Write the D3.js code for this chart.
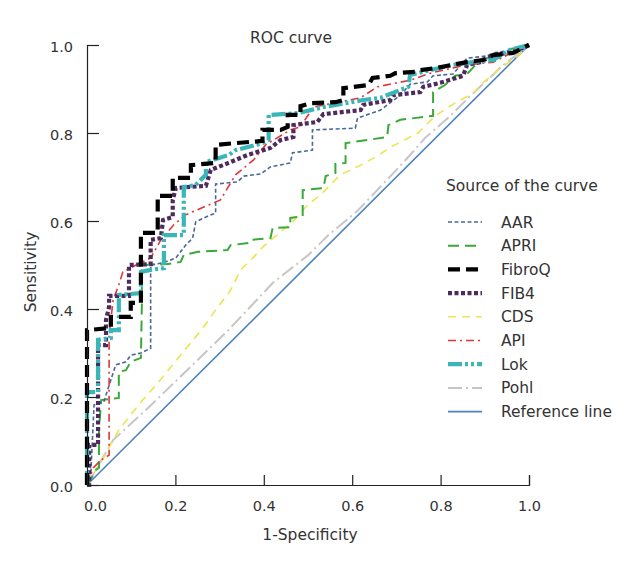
<!DOCTYPE html>
<html>
<head>
<meta charset="utf-8">
<script src="https://cdn.jsdelivr.net/npm/d3@7/dist/d3.min.js"></script>
<style>
  html, body { margin: 0; padding: 0; background: #fff; }
  svg text { font-family: "DejaVu Sans", Verdana, sans-serif; fill: #333; }
</style>
</head>
<body>
<svg id="chart" width="630" height="562"></svg>
<script>
// ---- data: ROC points [1-specificity, sensitivity] ----
const seriesNames = ["AAR", "APRI", "FibroQ", "FIB4", "CDS", "API", "Lok", "Pohl", "Reference line"];
const xTicks = [0, 0.2, 0.4, 0.6, 0.8, 1.0];
const yTicks = [0, 0.2, 0.4, 0.6, 0.8, 1.0];

const aarPts = [[0,0],[0.009,0.034],[0.016,0.182],[0.038,0.189],[0.065,0.273],[0.088,0.280],[0.099,0.295],[0.122,0.300],[0.144,0.311],[0.144,0.500],[0.172,0.505],[0.201,0.516],[0.223,0.545],[0.239,0.561],[0.246,0.598],[0.273,0.611],[0.291,0.618],[0.291,0.684],[0.341,0.689],[0.354,0.702],[0.393,0.707],[0.415,0.723],[0.460,0.732],[0.465,0.755],[0.510,0.761],[0.510,0.807],[0.607,0.811],[0.612,0.834],[0.664,0.852],[0.709,0.886],[0.731,0.911],[0.770,0.916],[0.783,0.930],[0.828,0.934],[0.860,0.970],[0.905,0.975],[0.919,0.982],[0.964,0.989],[1,1]];

const apriPts = [[0,0],[0.005,0.007],[0.020,0.034],[0.027,0.039],[0.027,0.125],[0.032,0.193],[0.072,0.198],[0.072,0.257],[0.088,0.261],[0.099,0.280],[0.122,0.289],[0.124,0.405],[0.124,0.500],[0.183,0.502],[0.212,0.507],[0.219,0.523],[0.251,0.530],[0.318,0.534],[0.325,0.545],[0.366,0.550],[0.370,0.557],[0.415,0.561],[0.420,0.584],[0.460,0.586],[0.460,0.607],[0.488,0.611],[0.488,0.670],[0.535,0.675],[0.540,0.702],[0.562,0.709],[0.562,0.730],[0.585,0.732],[0.585,0.777],[0.634,0.784],[0.679,0.791],[0.682,0.818],[0.709,0.830],[0.783,0.839],[0.783,0.893],[0.810,0.909],[0.833,0.930],[0.860,0.934],[0.889,0.966],[0.935,0.977],[0.950,0.989],[1,1]];

const fibroqPts = [[0,0],[0,0.352],[0.054,0.357],[0.054,0.382],[0.099,0.382],[0.099,0.414],[0.122,0.414],[0.122,0.573],[0.160,0.573],[0.160,0.657],[0.194,0.657],[0.194,0.698],[0.235,0.698],[0.235,0.727],[0.291,0.732],[0.291,0.773],[0.336,0.777],[0.397,0.782],[0.397,0.807],[0.438,0.807],[0.454,0.814],[0.454,0.841],[0.483,0.841],[0.483,0.861],[0.506,0.868],[0.562,0.870],[0.580,0.875],[0.580,0.902],[0.637,0.909],[0.646,0.925],[0.686,0.930],[0.698,0.936],[0.743,0.939],[0.754,0.943],[0.792,0.948],[0.826,0.955],[0.860,0.961],[0.896,0.966],[0.919,0.977],[0.964,0.982],[1,1]];

const fib4Pts = [[0,0],[0.005,0],[0.005,0.091],[0.025,0.091],[0.025,0.318],[0.043,0.318],[0.043,0.375],[0.050,0.405],[0.050,0.430],[0.095,0.430],[0.095,0.500],[0.144,0.502],[0.144,0.557],[0.167,0.561],[0.172,0.602],[0.194,0.609],[0.194,0.648],[0.201,0.675],[0.269,0.680],[0.280,0.716],[0.325,0.734],[0.363,0.750],[0.415,0.766],[0.438,0.784],[0.467,0.791],[0.467,0.818],[0.521,0.825],[0.535,0.843],[0.619,0.852],[0.625,0.864],[0.686,0.875],[0.693,0.886],[0.754,0.893],[0.761,0.905],[0.799,0.914],[0.851,0.930],[0.860,0.955],[0.889,0.961],[0.919,0.977],[0.964,0.984],[1,1]];

const cdsPts = [[0,0],[0.034,0.057],[0.072,0.125],[0.104,0.166],[0.126,0.193],[0.156,0.227],[0.264,0.359],[0.291,0.398],[0.325,0.443],[0.348,0.489],[0.377,0.518],[0.400,0.543],[0.427,0.566],[0.465,0.598],[0.497,0.634],[0.533,0.664],[0.573,0.705],[0.619,0.727],[0.652,0.745],[0.691,0.770],[0.749,0.800],[0.788,0.839],[0.826,0.864],[0.874,0.891],[0.898,0.916],[0.939,0.950],[0.975,0.975],[1,1]];

const apiPts = [[0,0],[0.014,0.039],[0.032,0.057],[0.050,0.068],[0.050,0.341],[0.059,0.420],[0.072,0.455],[0.081,0.484],[0.111,0.500],[0.144,0.516],[0.167,0.557],[0.196,0.591],[0.223,0.614],[0.302,0.648],[0.336,0.705],[0.377,0.739],[0.404,0.773],[0.460,0.807],[0.483,0.814],[0.512,0.859],[0.619,0.880],[0.657,0.905],[0.731,0.920],[0.777,0.936],[0.828,0.948],[0.860,0.955],[0.919,0.961],[0.964,0.984],[1,1]];

const lokPts = [[0,0],[0,0.211],[0.025,0.211],[0.025,0.330],[0.054,0.334],[0.054,0.352],[0.072,0.352],[0.072,0.432],[0.122,0.436],[0.122,0.484],[0.144,0.489],[0.174,0.493],[0.174,0.568],[0.219,0.568],[0.219,0.677],[0.246,0.682],[0.269,0.705],[0.269,0.734],[0.321,0.750],[0.336,0.761],[0.397,0.777],[0.411,0.784],[0.411,0.841],[0.476,0.845],[0.506,0.852],[0.535,0.859],[0.625,0.875],[0.664,0.880],[0.727,0.905],[0.731,0.932],[0.777,0.943],[0.828,0.955],[0.874,0.961],[0.919,0.966],[0.957,0.989],[1,1]];

const pohlPts = [[0,0],[0.020,0.034],[0.059,0.102],[0.138,0.175],[0.318,0.350],[0.420,0.459],[0.501,0.523],[0.544,0.566],[0.612,0.623],[0.698,0.714],[0.731,0.750],[0.765,0.789],[0.822,0.839],[0.867,0.884],[0.939,0.952],[1,1]];

const refPts = [[0,0],[1,1]];

// ---- styles ----
const styles = {
  "AAR":            { color: "#4a6796", width: 1.6, dash: "4,2.5" },
  "APRI":           { color: "#3aa93a", width: 2,   dash: "11,6" },
  "FibroQ":         { color: "#000000", width: 4.2, dash: "12,6" },
  "FIB4":           { color: "#4e2b5e", width: 4.2, dash: "4,2.5" },
  "CDS":            { color: "#efe34d", width: 1.6, dash: "8,6" },
  "API":            { color: "#e0353a", width: 1.6, dash: "8,4,2,4" },
  "Lok":            { color: "#3ab6b8", width: 4.2, dash: "14,3,3,3,3,3" },
  "Pohl":           { color: "#c6c6c6", width: 2,   dash: "14,4,2,4" },
  "Reference line": { color: "#4f82be", width: 1.6, dash: null }
};
const seriesData = {
  "AAR": aarPts, "APRI": apriPts, "FibroQ": fibroqPts, "FIB4": fib4Pts, "CDS": cdsPts,
  "API": apiPts, "Lok": lokPts, "Pohl": pohlPts, "Reference line": refPts
};
const drawOrder = ["Reference line", "Pohl", "CDS", "APRI", "AAR", "API", "FIB4", "Lok", "FibroQ"];

// ---- layout ----
const svg = d3.select("#chart");
const x = d3.scaleLinear().domain([0, 1]).range([87, 529]);
const y = d3.scaleLinear().domain([0, 1]).range([485, 45]);

const line = d3.line().x(d => x(d[0])).y(d => y(d[1])).curve(d3.curveLinear);

const plot = svg.append("g");
drawOrder.forEach(name => {
  const s = styles[name];
  plot.append("path")
    .datum(seriesData[name])
    .attr("d", line)
    .attr("fill", "none")
    .attr("stroke", s.color)
    .attr("stroke-width", s.width)
    .attr("stroke-dasharray", s.dash)
    .attr("stroke-linecap", "butt")
    .attr("stroke-linejoin", "miter");
});

// axes (ticks pointing inward)
const xAxis = d3.axisBottom(x).tickValues(xTicks).tickFormat(d3.format(".1f")).tickSize(-10).tickPadding(16);
const yAxis = d3.axisLeft(y).tickValues(yTicks).tickFormat(d3.format(".1f")).tickSize(-12).tickPadding(14);

const gx = svg.append("g").attr("transform", "translate(0,485)").call(xAxis);
const gy = svg.append("g").attr("transform", "translate(87,0)").call(yAxis);
[gx, gy].forEach(g => {
  g.select(".domain").attr("stroke", "#222").attr("stroke-width", 1.2);
  g.selectAll(".tick line").attr("stroke", "#222").attr("stroke-width", 1.2);
  g.selectAll(".tick text").attr("fill", "#333").style("font-size", "14.5px")
    .style("font-family", "'DejaVu Sans', Verdana, sans-serif");
});
gx.selectAll(".tick text").filter(d => d === 0).attr("dx", 8);
gy.selectAll(".tick text").attr("dy", "0.45em");

// title & axis labels
svg.append("text").attr("x", 291).attr("y", 43).attr("text-anchor", "middle")
  .style("font-size", "15.5px").text("ROC curve");
svg.append("text").attr("x", 310).attr("y", 540).attr("text-anchor", "middle")
  .style("font-size", "15.5px").text("1-Specificity");
svg.append("text").attr("transform", "translate(36,272) rotate(-90)").attr("text-anchor", "middle")
  .style("font-size", "15.5px").text("Sensitivity");

// legend
const lg = svg.append("g");
lg.append("text").attr("x", 446).attr("y", 191).style("font-size", "15.5px").text("Source of the curve");
seriesNames.forEach((name, i) => {
  const s = styles[name];
  const cy = 222 + i * 23.7;
  lg.append("line").attr("x1", 448).attr("x2", 482).attr("y1", cy).attr("y2", cy)
    .attr("stroke", s.color).attr("stroke-width", s.width).attr("stroke-dasharray", s.dash);
  lg.append("text").attr("x", 501).attr("y", cy + 5.5).style("font-size", "15.5px").text(name);
});
</script>
</body>
</html>
